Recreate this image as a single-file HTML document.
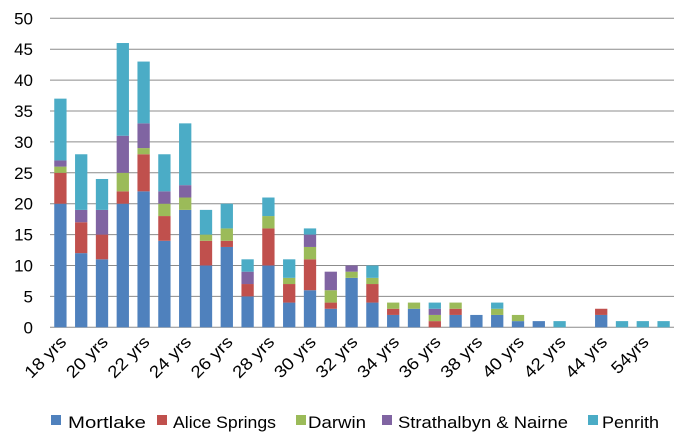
<!DOCTYPE html>
<html><head><meta charset="utf-8"><style>body{margin:0;background:#fff}svg{display:block}text{font-family:"Liberation Sans",sans-serif;fill:#000}</style></head>
<body>
<svg width="697" height="435" viewBox="0 0 697 435" xmlns="http://www.w3.org/2000/svg">
<g id="grid" stroke="#8c8c8c" stroke-width="1"></g>
<g id="bars"></g>
<g id="yl" font-size="17" text-anchor="end"></g>
<g id="xl" font-size="17" text-anchor="end"></g>
<g font-size="17">
<rect x="51" y="415" width="10" height="10" fill="#4f81bd"/><text x="68" y="428" textLength="78" lengthAdjust="spacingAndGlyphs">Mortlake</text>
<rect x="157" y="415" width="10" height="10" fill="#c0504d"/><text x="173" y="428" textLength="103" lengthAdjust="spacingAndGlyphs">Alice Springs</text>
<rect x="296" y="415" width="10" height="10" fill="#9bbb59"/><text x="308" y="428" textLength="58" lengthAdjust="spacingAndGlyphs">Darwin</text>
<rect x="382" y="415" width="10" height="10" fill="#8064a2"/><text x="398" y="428" textLength="170" lengthAdjust="spacingAndGlyphs">Strathalbyn &amp; Nairne</text>
<rect x="588" y="415" width="10" height="10" fill="#4bacc6"/><text x="602" y="428" textLength="57" lengthAdjust="spacingAndGlyphs">Penrith</text>
</g>
</svg>
<script>
const ns="http://www.w3.org/2000/svg";
const d=[[20,5,1,1,10],[12,5,0,2,9],[11,4,0,4,5],[20,2,3,6,15],[22,6,1,4,10],[14,4,2,2,6],[19,0,2,2,10],[10,4,1,0,4],[13,1,2,0,4],[5,2,0,2,2],[10,6,2,0,3],[4,3,1,0,3],[6,5,2,2,1],[3,1,2,3,0],[8,0,1,1,0],[4,3,1,0,2],[2,1,1,0,0],[3,0,1,0,0],[0,1,1,1,1],[2,1,1,0,0],[2,0,0,0,0],[2,0,1,0,1],[1,0,1,0,0],[1,0,0,0,0],[0,0,0,0,1],[0,0,0,0,0],[2,1,0,0,0],[0,0,0,0,1],[0,0,0,0,1],[0,0,0,0,1]];
const c=["#4f81bd","#c0504d","#9bbb59","#8064a2","#4bacc6"];
const y0=327.3,k=6.18,L=50,W=20.8;
function el(t,a,p,txt){const e=document.createElementNS(ns,t);for(const q in a)e.setAttribute(q,a[q]);if(txt)e.textContent=txt;document.getElementById(p).appendChild(e);}
for(let v=0;v<=50;v+=5){const y=y0-v*k;el("line",{x1:L,x2:674,y1:y,y2:y},"grid");el("text",{x:33,y:y+6},"yl",String(v));}
d.forEach((r,i)=>{let s=0;const x=L+W*i+4.25;r.forEach((v,j)=>{if(v){el("rect",{x:x,y:y0-(s+v)*k,width:12.3,height:v*k,fill:c[j]},"bars");}s+=v;});});
const labs=["18 yrs","20 yrs","22 yrs","24 yrs","26 yrs","28 yrs","30 yrs","32 yrs","34 yrs","36 yrs","38 yrs","40 yrs","42 yrs","44 yrs","54yrs"];
labs.forEach((t,i)=>{const cx=L+W*(2*i+0.5)+7,cy=343;const a={x:cx,y:cy,transform:`rotate(-45 ${cx} ${cy})`,textLength:t.length==5?45:51,lengthAdjust:"spacingAndGlyphs"};el("text",a,"xl",t);});
</script>
</body></html>
